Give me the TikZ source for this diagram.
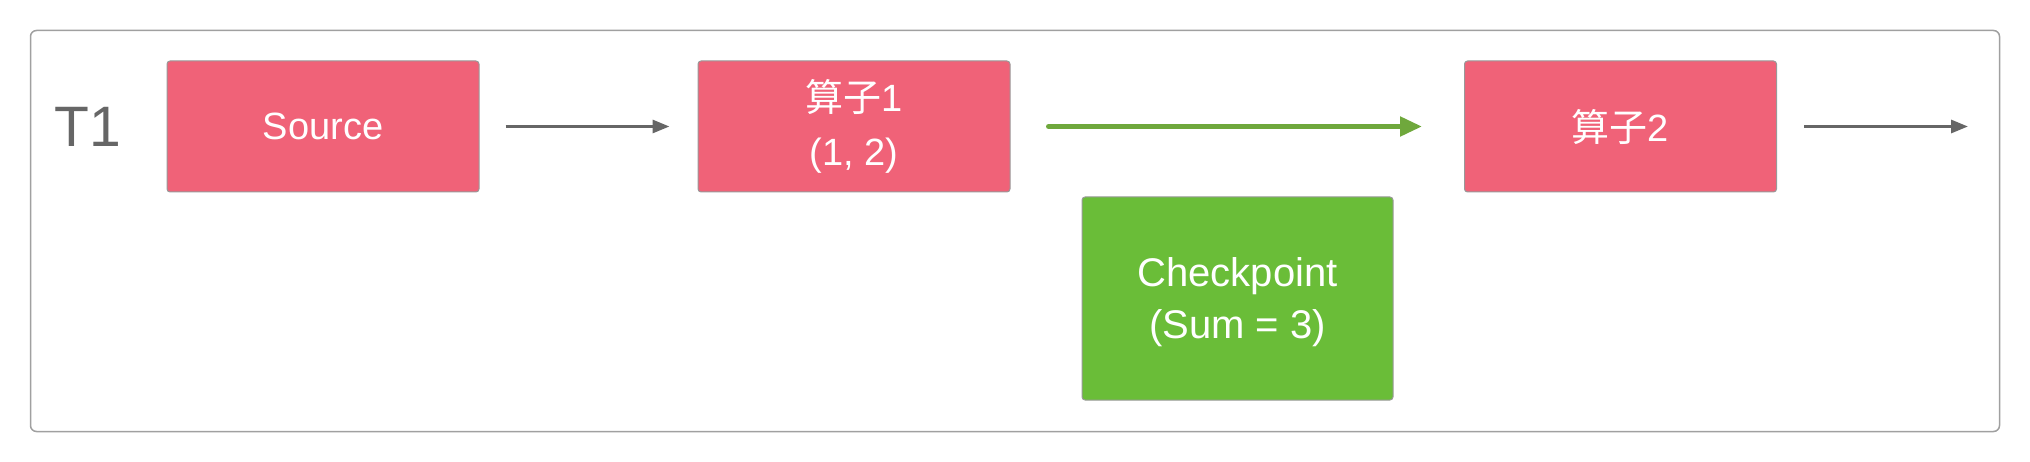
\documentclass[tikz,border=0pt]{standalone}
\usepackage{fontspec}
\setmainfont{Liberation Sans}
\newfontfamily\cjk{Noto Sans CJK SC}
\usetikzlibrary{arrows.meta}
\definecolor{pinkfill}{HTML}{F06278}
\definecolor{greenfill}{HTML}{6ABD38}
\definecolor{greenline}{HTML}{6FA83C}
\definecolor{greyline}{HTML}{666666}
\definecolor{frameline}{HTML}{A0A0A0}
\definecolor{boxborder}{HTML}{999999}
\tikzset{
  opbox/.style={draw=boxborder, line width=1pt, rounded corners=3pt, fill=pinkfill,
    text=white, align=center, inner sep=0pt, minimum width=312pt, minimum height=131pt,
    font=\fontsize{38}{54}\selectfont},
  ckbox/.style={opbox, fill=greenfill, minimum width=311pt, minimum height=203pt},
  cktext/.style={text=white, align=center, inner sep=0pt, font=\fontsize{40}{52}\selectfont},
  flow/.style={draw=greyline, line width=3pt, -{Triangle[length=17pt,width=13pt]}},
  gflow/.style={draw=greenline, line width=5pt, line cap=round, -{Triangle[length=22pt,width=19pt]}}
}
\begin{document}
\begin{tikzpicture}[x=1pt, y=-1pt]
\useasboundingbox (0,0) rectangle (2030,462);
\draw[frameline, line width=1.5pt, rounded corners=6pt] (30.5,30.5) rectangle (1999.5,431.5);
\node[anchor=base, text=greyline, font=\fontsize{57}{66}\selectfont, inner sep=0pt] (t1) at (88,147) {T1};
\node[opbox] (src) at (323,126.5) {Source};
\node[opbox] (op1) at (854,126.5) {{\cjk 算子}1\\(1, 2)};
\node[opbox] (op2) at (1620.5,126.5) {{\cjk 算子}2};
\node[ckbox, label={[cktext, yshift=-4pt]center:{Checkpoint\\(Sum = 3)}}] (ck) at (1237.5,298.5) {};
\coordinate (out) at (1968,126.5);
\draw[flow, shorten <=26pt, shorten >=28pt] (src) -- (op1);
\draw[gflow, shorten <=38pt, shorten >=42pt] (op1) -- (op2);
\draw[flow, shorten <=27pt] (op2.east) -- (out);
\end{tikzpicture}
\end{document}
